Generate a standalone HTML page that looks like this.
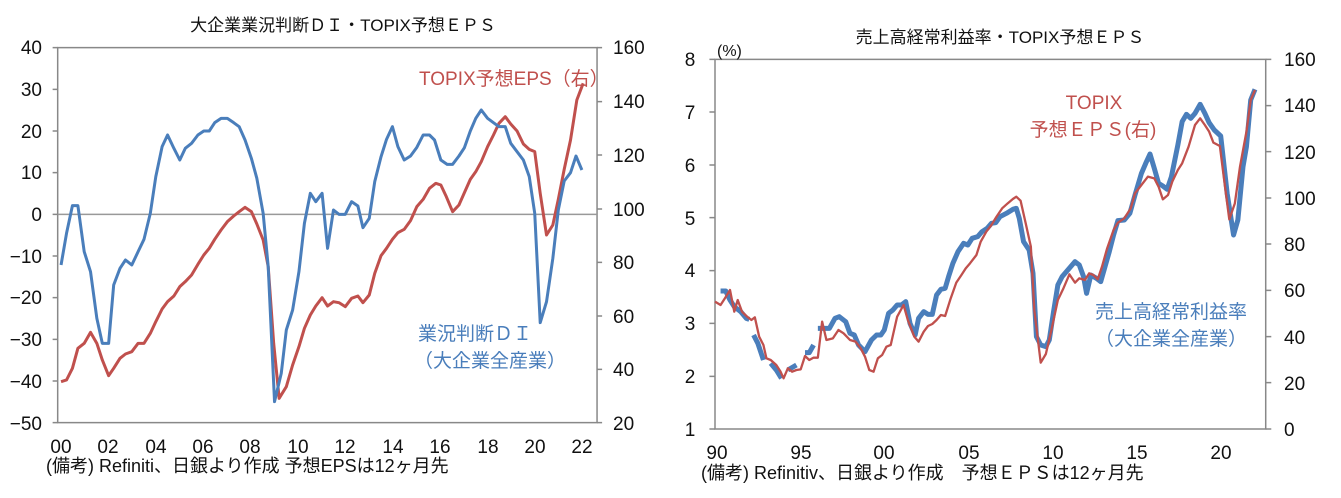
<!DOCTYPE html>
<html><head><meta charset="utf-8"><style>
html,body{margin:0;padding:0;background:#fff;}
svg{display:block;}
text{font-family:"Liberation Sans","Noto Sans CJK JP",sans-serif;}
.t{font-size:19px;fill:#111;}
.ti{font-size:17px;fill:#111;}
</style></head><body>
<svg width="1341" height="498" viewBox="0 0 1341 498" xmlns="http://www.w3.org/2000/svg">
<rect width="1341" height="498" fill="#fff"/>
<!-- LEFT CHART -->
<g transform="scale(0.42105,0.33333)" fill="none">
 <rect x="137" y="143" width="1281" height="1125" stroke="#888" stroke-width="1.5" vector-effect="non-scaling-stroke"/>
 <line x1="137" y1="643" x2="1418" y2="643" stroke="#999" stroke-width="1.5" vector-effect="non-scaling-stroke"/>
 <path d="M125 143H137M125 268H137M125 393H137M125 518H137M125 643H137M125 768H137M125 893H137M125 1018H137M125 1143H137M125 1268H137 M1418 143H1430M1418 305H1430M1418 465H1430M1418 627H1430M1418 787H1430M1418 948H1430M1418 1108H1430M1418 1268H1430" stroke="#888" stroke-width="1.5" vector-effect="non-scaling-stroke"/>
 <polyline stroke="#c0504d" stroke-width="3" stroke-linejoin="round" vector-effect="non-scaling-stroke" points="145,1145 158,1140 172,1105 185,1045 200,1030 215,997 230,1030 243,1080 258,1127 270,1105 285,1075 298,1062 313,1055 328,1030 342,1030 357,1000 370,965 385,927 398,905 413,888 427,860 440,845 455,825 470,793 484,765 497,745 510,718 525,690 540,665 555,648 568,635 582,622 597,635 610,672 625,720 637,800 650,1030 663,1195 680,1160 695,1095 710,1040 723,985 737,945 750,918 765,893 778,918 792,905 805,908 820,920 835,895 850,888 862,908 877,885 890,820 905,767 918,745 932,718 945,698 960,688 975,662 990,620 1005,598 1020,565 1035,550 1047,555 1060,590 1075,635 1090,615 1103,578 1117,538 1130,515 1143,485 1158,440 1172,405 1185,370 1200,350 1213,372 1228,393 1243,432 1257,448 1270,455 1283,580 1298,705 1313,675 1326,598 1340,508 1355,420 1370,300 1385,250"/>
 <polyline stroke="#4a7ebb" stroke-width="3" stroke-linejoin="round" vector-effect="non-scaling-stroke" points="145,795 158,700 172,617 185,617 200,755 215,815 230,955 243,1030 258,1030 270,855 285,805 298,780 313,795 328,755 342,718 357,640 370,530 385,440 398,405 413,445 427,480 440,445 455,430 470,405 484,393 497,393 510,368 525,355 540,355 555,368 568,380 582,420 597,475 610,535 625,640 637,800 652,1205 668,1120 680,990 695,930 710,815 723,670 737,580 750,605 765,580 778,745 792,630 805,643 820,643 835,605 850,618 862,683 877,655 890,545 905,470 918,418 932,380 945,440 960,480 975,468 990,442 1005,405 1020,405 1032,420 1047,480 1062,493 1075,493 1090,468 1103,443 1117,393 1130,355 1143,330 1158,355 1172,368 1185,380 1200,380 1213,430 1228,455 1243,480 1257,530 1270,640 1283,968 1298,905 1313,775 1326,630 1340,543 1355,518 1368,468 1382,510"/>
</g>
<text class="ti" x="343" y="31" text-anchor="middle">大企業業況判断ＤＩ・TOPIX予想ＥＰＳ</text>
<g class="t" text-anchor="end">
 <text x="42" y="54">40</text><text x="42" y="96">30</text><text x="42" y="138">20</text><text x="42" y="179">10</text><text x="42" y="221">0</text><text x="42" y="263">−10</text><text x="42" y="304">−20</text><text x="42" y="346">−30</text><text x="42" y="388">−40</text><text x="42" y="430">−50</text>
</g>
<g class="t">
 <text x="613" y="54">160</text><text x="613" y="108">140</text><text x="613" y="162">120</text><text x="613" y="216">100</text><text x="613" y="269">80</text><text x="613" y="323">60</text><text x="613" y="376">40</text><text x="613" y="430">20</text>
</g>
<g class="t" text-anchor="middle">
 <text x="61" y="453">00</text><text x="108" y="453">02</text><text x="156" y="453">04</text><text x="203" y="453">06</text><text x="250" y="453">08</text><text x="298" y="453">10</text><text x="345" y="453">12</text><text x="393" y="453">14</text><text x="440" y="453">16</text><text x="488" y="453">18</text><text x="535" y="453">20</text><text x="582" y="453">22</text>
</g>
<text class="t" x="46" y="472" style="font-size:18px">(備考) Refiniti、日銀より作成 予想EPSは12ヶ月先</text>
<text x="419" y="85" style="font-size:19px;fill:#c0504d">TOPIX予想EPS（右）</text>
<text x="418" y="340" style="font-size:19px;fill:#4a7ebb">業況判断ＤＩ</text>
<text x="414" y="367" style="font-size:19px;fill:#4a7ebb">（大企業全産業）</text>

<!-- RIGHT CHART -->
<g transform="translate(670,0) scale(0.42857,0.33333)" fill="none">
 <rect x="105" y="178" width="1285" height="1109" stroke="#888" stroke-width="1.5" vector-effect="non-scaling-stroke"/>
 <path d="M92 178H105M92 336H105M92 495H105M92 653H105M92 812H105M92 970H105M92 1129H105M92 1287H105 M1390 178H1403M1390 317H1403M1390 455H1403M1390 594H1403M1390 732H1403M1390 871H1403M1390 1010H1403M1390 1148H1403M1390 1287H1403" stroke="#888" stroke-width="1.5" vector-effect="non-scaling-stroke"/>
 <g stroke="#4a7ebb" stroke-width="5" stroke-linejoin="round" vector-effect="non-scaling-stroke">
 <polyline vector-effect="non-scaling-stroke" points="118,873 130,873 140,900 150,920 165,935 178,955 185,958"/>
 <polyline vector-effect="non-scaling-stroke" points="195,1005 205,1030 218,1080"/>
 <polyline vector-effect="non-scaling-stroke" points="235,1090 248,1110 260,1135"/>
 <polyline vector-effect="non-scaling-stroke" points="275,1110 295,1095"/>
 <polyline vector-effect="non-scaling-stroke" points="315,1058 325,1058 335,1035"/>
 <polyline vector-effect="non-scaling-stroke" points="345,985 360,985 372,985 385,955 395,950 410,965 420,1000 430,1005 440,1035 455,1055 470,1020 482,1005 492,1005 500,990 510,940 520,930 530,915 540,915 550,905 560,970 572,1005 580,955 592,935 602,943 612,943 622,885 632,868 642,865 650,830 660,790 672,755 685,730 695,735 705,715 718,710 728,695 740,685 750,670 760,668 770,650 785,640 800,628 808,625 815,655 825,725 838,750 847,820 855,1010 865,1035 877,1040 885,1020 895,935 905,855 915,830 925,815 935,800 945,785 955,795 965,830 972,880 982,825 995,835 1005,845 1015,800 1025,755 1035,705 1045,662 1060,660 1073,640 1085,585 1100,520 1110,490 1120,462 1130,505 1140,550 1150,558 1160,568 1170,530 1185,435 1195,365 1205,343 1215,355 1225,340 1237,313 1248,340 1258,368 1270,390 1285,408 1300,580 1315,705 1325,660 1337,500 1345,440 1355,300 1365,268"/>
 </g>
 <polyline stroke="#c0504d" stroke-width="2.3" stroke-linejoin="round" vector-effect="non-scaling-stroke" points="105,905 118,915 128,895 140,870 150,935 158,900 168,935 180,950 190,960 198,952 208,1010 218,1035 225,1075 235,1080 248,1095 258,1115 265,1135 275,1105 285,1115 295,1110 305,1108 315,1068 325,1080 335,1073 345,1073 355,965 365,1020 380,1015 393,990 405,1000 420,1020 433,1025 445,1045 455,1070 465,1110 475,1115 485,1075 495,1065 505,1040 515,1035 530,950 545,915 555,960 570,1010 580,1025 592,995 602,978 612,972 622,960 632,945 642,948 655,895 668,848 680,825 690,805 700,790 715,765 725,725 738,695 750,675 762,650 775,625 788,610 800,597 808,590 818,602 830,670 842,740 850,930 865,1088 877,1062 890,990 905,900 918,865 932,823 945,848 955,835 968,840 978,820 988,825 998,838 1008,800 1020,745 1035,690 1045,668 1060,655 1075,625 1085,580 1100,555 1115,530 1130,535 1140,560 1150,598 1162,585 1172,545 1185,510 1195,490 1210,440 1225,375 1237,355 1248,375 1258,395 1268,428 1283,438 1295,560 1305,658 1318,610 1330,500 1345,395 1355,300 1365,270"/>
</g>
<text class="ti" x="1000" y="43" text-anchor="middle">売上高経常利益率・TOPIX予想ＥＰＳ</text>
<text class="ti" x="717" y="56" style="font-size:16px">(%)</text>
<g class="t" text-anchor="middle">
 <text x="690" y="66">8</text><text x="690" y="119">7</text><text x="690" y="172">6</text><text x="690" y="225">5</text><text x="690" y="277">4</text><text x="690" y="330">3</text><text x="690" y="383">2</text><text x="690" y="436">1</text>
</g>
<g class="t">
 <text x="1284" y="66">160</text><text x="1284" y="112">140</text><text x="1284" y="159">120</text><text x="1284" y="205">100</text><text x="1284" y="251">80</text><text x="1284" y="297">60</text><text x="1284" y="344">40</text><text x="1284" y="390">20</text><text x="1284" y="436">0</text>
</g>
<g class="t" text-anchor="middle">
 <text x="717" y="459">90</text><text x="801" y="459">95</text><text x="884" y="459">00</text><text x="969" y="459">05</text><text x="1053" y="459">10</text><text x="1137" y="459">15</text><text x="1221" y="459">20</text>
</g>
<text class="t" x="701" y="479" style="font-size:18px">(備考) Refinitiv、日銀より作成　予想ＥＰＳは12ヶ月先</text>
<text x="1094" y="109" text-anchor="middle" style="font-size:19px;fill:#c0504d">TOPIX</text>
<text x="1093" y="136" text-anchor="middle" style="font-size:19px;fill:#c0504d">予想ＥＰＳ(右)</text>
<text x="1171" y="318" text-anchor="middle" style="font-size:19px;fill:#4a7ebb">売上高経常利益率</text>
<text x="1171" y="345" text-anchor="middle" style="font-size:19px;fill:#4a7ebb">（大企業全産業）</text>
</svg>
</body></html>
